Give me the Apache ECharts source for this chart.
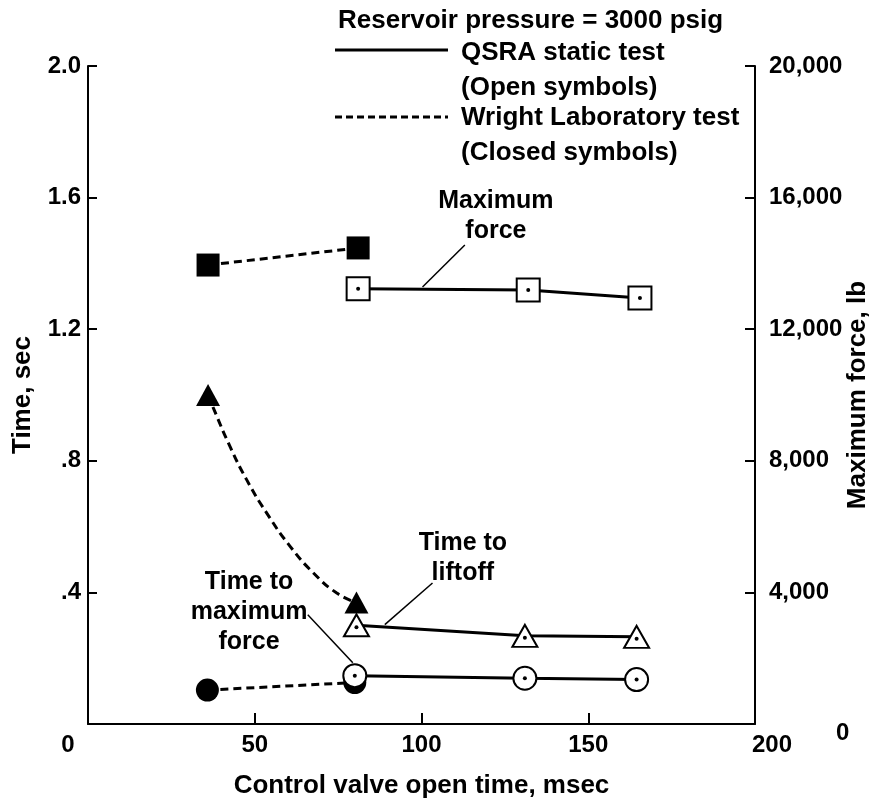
<!DOCTYPE html>
<html><head><meta charset="utf-8">
<script src="https://cdn.jsdelivr.net/npm/echarts@6/dist/echarts.min.js"></script>
<style>html,body{margin:0;padding:0;background:#fff;overflow:hidden;width:876px;height:801px}#c{width:876px;height:801px;overflow:hidden}</style>
</head><body><div id="c"></div>
<script>
// ---- tick labels ----
const xTickLabels = ['0', '50', '100', '150', '200'];
const timeTickLabels = ['', '.4', '.8', '1.2', '1.6', '2.0'];
const forceTickLabels = ['0', '4,000', '8,000', '12,000', '16,000', '20,000'];

// ---- QSRA static test (open symbols) ----
const qsraForceX = [81, 132, 165.5];
const qsraForce = [13230, 13190, 12950];          // lb
const qsraLiftX = [80.5, 131, 164.5];
const qsraLift = [0.30, 0.268, 0.265];             // sec
const qsraTmfX = [80, 131, 164.5];
const qsraTmf = [0.147, 0.139, 0.135];             // sec

// ---- Wright Laboratory test (closed symbols) ----
const wlForceX = [36, 81];
const wlForce = [13950, 14470];                    // lb
const wlLiftX = [36, 80.5];
const wlLift = [1.0, 0.369];                       // sec
const wlTmfX = [35.8, 80];
const wlTmf = [0.103, 0.126];                      // sec
// hand-drawn dashed curve through the Wright liftoff points
const wlLiftCurveX = [36, 37.6, 42.6, 47.6, 53.6, 60.6, 67.6, 74.6, 80.5];
const wlLiftCurveY = [1.0, 0.96, 0.843, 0.742, 0.641, 0.54, 0.459, 0.398, 0.369];

// ---- annotations (data coordinates) ----
const annotTexts = ['Maximum\nforce', 'Time to\nliftoff', 'Time to\nmaximum\nforce'];
const annotX = [122.3, 112.4, 48.3];
const annotY = [1.543, 0.505, 0.341];
const leaderLines = [
  [[113.0, 1.456], [100.3, 1.328]],
  [[103.3, 0.4286], [89.0, 0.302]],
  [[65.9, 0.332], [79.4, 0.186]]
];

const FONT = "'Liberation Sans', Arial, Helvetica, sans-serif";
const zip = (a, b) => a.map((v, i) => [v, b[i]]);

const chart = echarts.init(document.getElementById('c'), null, {renderer: 'canvas', width: 876, height: 801});

const openStyle = {color: '#fff', borderColor: '#000', borderWidth: 2, opacity: 1};
const solidFill = {color: '#000', opacity: 1};
const solidLine = {color: '#000', width: 3, type: 'solid'};
const dashLine = {color: '#000', width: 3, type: [8, 5]};

const series = [
  // Wright (closed)
  {type: 'line', yAxisIndex: 1, data: zip(wlForceX, wlForce), symbol: 'rect', symbolSize: 23,
   itemStyle: solidFill, lineStyle: dashLine, z: 3},
  {type: 'line', data: zip(wlLiftCurveX, wlLiftCurveY), smooth: true, showSymbol: false, symbol: 'none',
   lineStyle: dashLine, z: 3},
  {type: 'scatter', data: zip(wlLiftX, wlLift), symbol: 'triangle', symbolSize: [24, 22],
   itemStyle: solidFill, z: 4},
  {type: 'line', data: zip(wlTmfX, wlTmf), symbol: 'circle', symbolSize: 23,
   itemStyle: solidFill, lineStyle: dashLine, z: 3},
  // QSRA (open)
  {type: 'line', yAxisIndex: 1, data: zip(qsraForceX, qsraForce), symbol: 'rect', symbolSize: 23,
   itemStyle: openStyle, lineStyle: solidLine, z: 5},
  {type: 'line', data: zip(qsraLiftX, qsraLift), symbol: 'triangle', symbolSize: [25, 22],
   itemStyle: openStyle, lineStyle: solidLine, z: 5},
  {type: 'line', data: zip(qsraTmfX, qsraTmf), symbol: 'circle', symbolSize: 23,
   itemStyle: openStyle, lineStyle: solidLine, z: 5},
  // centre dots of open symbols
  {type: 'scatter', yAxisIndex: 1, data: zip(qsraForceX, qsraForce), symbol: 'circle', symbolSize: 4,
   itemStyle: solidFill, z: 6},
  {type: 'scatter', data: zip(qsraLiftX, qsraLift), symbol: 'circle', symbolSize: 4,
   symbolOffset: [0, 2], itemStyle: solidFill, z: 6},
  {type: 'scatter', data: zip(qsraTmfX, qsraTmf), symbol: 'circle', symbolSize: 4,
   itemStyle: solidFill, z: 6},
  // annotation texts
  {type: 'scatter', data: zip(annotX, annotY), symbolSize: 0, silent: true, z: 7,
   itemStyle: {opacity: 1, color: '#000'},
   label: {show: true, position: 'inside', formatter: p => annotTexts[p.dataIndex],
     color: '#000', opacity: 1, fontFamily: FONT, fontWeight: 'bold', fontSize: 25, lineHeight: 30, align: 'center'}}
];
leaderLines.forEach(seg => series.push({type: 'line', data: seg, symbol: 'none', silent: true,
  lineStyle: {color: '#000', width: 1.5}, z: 7}));

const labelBase = {color: '#000', fontFamily: FONT, fontWeight: 'bold', fontSize: 24};

chart.setOption({
  backgroundColor: '#fff',
  animation: false,
  grid: {left: 88, right: 121, top: 66, bottom: 77, containLabel: false, outerBoundsMode: 'none'},
  xAxis: {
    type: 'value', min: 0, max: 200, interval: 50,
    name: 'Control valve open time, msec', nameLocation: 'middle', nameGap: 49, nameMoveOverlap: false,
    nameTextStyle: {color: '#000', fontFamily: FONT, fontWeight: 'bold', fontSize: 26},
    axisLine: {show: true, lineStyle: {color: '#000', width: 2}},
    axisTick: {show: true, inside: true, length: 11, lineStyle: {color: '#000', width: 2}},
    splitLine: {show: false},
    axisLabel: Object.assign({}, labelBase, {margin: 9,
      formatter: v => {
        const i = Math.round(v / 50);
        if (i === 0) return '{l|' + xTickLabels[0] + '}';
        if (i === 4) return '{r|' + xTickLabels[4] + '}';
        return xTickLabels[i];
      },
      rich: {
        l: Object.assign({}, labelBase, {padding: [0, 40, 0, 0]}),
        r: Object.assign({}, labelBase, {padding: [0, 0, 0, 34]})
      }})
  },
  yAxis: [
    {type: 'value', min: 0, max: 2, interval: 0.4, position: 'left',
     name: 'Time, sec', nameLocation: 'middle', nameGap: 52, nameRotate: 90, nameMoveOverlap: false,
     nameTextStyle: {color: '#000', fontFamily: FONT, fontWeight: 'bold', fontSize: 26},
     axisLine: {show: true, lineStyle: {color: '#000', width: 2}},
     axisTick: {show: true, inside: true, length: 9, lineStyle: {color: '#000', width: 2}},
     splitLine: {show: false},
     axisLabel: Object.assign({}, labelBase, {margin: 7,
       formatter: v => timeTickLabels[Math.round(v / 0.4)]})},
    {type: 'value', min: 0, max: 20000, interval: 4000, position: 'right',
     name: 'Maximum force, lb', nameLocation: 'middle', nameGap: 90, nameRotate: 90, nameMoveOverlap: false,
     nameTextStyle: {color: '#000', fontFamily: FONT, fontWeight: 'bold', fontSize: 26},
     axisLine: {show: true, lineStyle: {color: '#000', width: 2}},
     axisTick: {show: true, inside: true, length: 10, lineStyle: {color: '#000', width: 2}},
     splitLine: {show: false},
     axisLabel: Object.assign({}, labelBase, {margin: 14,
       formatter: v => {
         const i = Math.round(v / 4000);
         return i === 0 ? '{z|' + forceTickLabels[0] + '}' : forceTickLabels[i];
       },
       rich: {z: Object.assign({}, labelBase, {padding: [18, 0, 0, 67]})}})}
  ],
  graphic: [
    {type: 'text', left: 338, top: 8, style: {text: 'Reservoir pressure = 3000 psig', fill: '#000',
      font: 'bold 26px ' + FONT}},
    {type: 'line', shape: {x1: 335, y1: 50, x2: 448, y2: 50}, style: {stroke: '#000', lineWidth: 3}},
    {type: 'text', left: 461, top: 40, style: {text: 'QSRA static test', fill: '#000', font: 'bold 26px ' + FONT}},
    {type: 'text', left: 461, top: 75, style: {text: '(Open symbols)', fill: '#000', font: 'bold 26px ' + FONT}},
    {type: 'line', shape: {x1: 335, y1: 117, x2: 448, y2: 117}, style: {stroke: '#000', lineWidth: 3, lineDash: [7, 4]}},
    {type: 'text', left: 461, top: 105, style: {text: 'Wright Laboratory test', fill: '#000', font: 'bold 26px ' + FONT}},
    {type: 'text', left: 461, top: 140, style: {text: '(Closed symbols)', fill: '#000', font: 'bold 26px ' + FONT}}
  ],
  series: series
});
</script></body></html>
